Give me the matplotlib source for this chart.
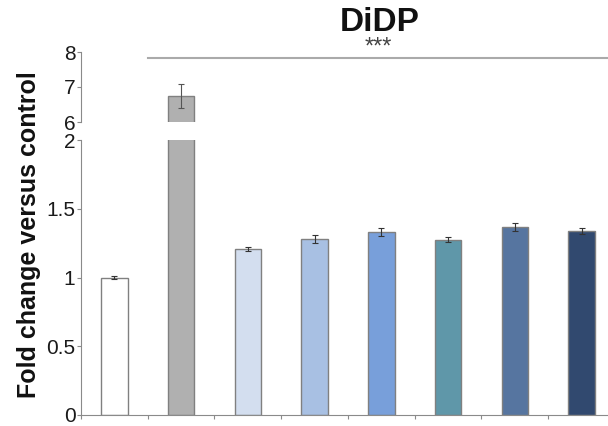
import matplotlib
matplotlib.use("Agg")
import matplotlib.pyplot as plt
import numpy as np

plt.rcParams['font.family'] = ['Liberation Sans', 'DejaVu Sans']

# bar values
groups = ['control', 'DiDP 1', 'DiDP 2', 'DiDP 3', 'DiDP 4', 'DiDP 5', 'DiDP 6', 'DiDP 7']
fold = [1.0, 6.74, 1.208, 1.281, 1.329, 1.274, 1.367, 1.341]
err = [0.012, 0.35, 0.015, 0.028, 0.03, 0.019, 0.028, 0.021]
colors = ['#ffffff', '#b0b0b0', '#d3deef', '#a8c0e3', '#789fda',
          '#5f97a9', '#5675a0', '#31496f']
low_ticks = [0, 0.5, 1, 1.5, 2]
low_labels = ['0', '0.5', '1', '1.5', '2']
high_ticks = [6, 7, 8]

x = np.arange(len(groups))

fig = plt.figure(figsize=(6.08, 4.26), dpi=100)
left = 81 / 608
width = 534 / 608
ax_lo = fig.add_axes([left, 11 / 426, width, 275 / 426])
ax_hi = fig.add_axes([left, 304 / 426, width, 70 / 426])

for ax in (ax_lo, ax_hi):
    ax.bar(x, fold, width=0.4, color=colors, edgecolor='#808080', linewidth=1)
    ax.set_xlim(-0.5, len(groups) - 0.5)
    for side in ('top', 'right'):
        ax.spines[side].set_visible(False)
    ax.spines['left'].set_color('#8a8a8a')
    ax.spines['bottom'].set_color('#8a8a8a')
    ax.tick_params(axis='y', length=3, width=0.8, color='#8a8a8a', pad=1,
                   labelsize=15, labelcolor='#1a1a1a')

# error bars: lower part for the small bars, upper part for the big one
small = [i for i in x if fold[i] < 2]
ax_lo.errorbar(x[small], [fold[i] for i in small], yerr=[err[i] for i in small],
               fmt='none', ecolor='#333333', elinewidth=0.8, capsize=2, capthick=0.8)
ax_hi.errorbar([1], [fold[1]], yerr=[err[1]], fmt='none', ecolor='#555555',
               elinewidth=0.8, capsize=2, capthick=0.8)

ax_lo.set_ylim(0, 2)
ax_lo.set_yticks(low_ticks)
ax_lo.set_yticklabels(low_labels)
ax_lo.set_xticks(np.arange(-0.5, len(groups), 1))
ax_lo.set_xticklabels([])
ax_lo.tick_params(axis='x', length=3, width=0.8, color='#8a8a8a')

ax_hi.set_ylim(6, 8)
ax_hi.set_yticks(high_ticks)
ax_hi.spines['bottom'].set_visible(False)
ax_hi.set_xticks([])

# significance line, stars and title
ax_hi.plot([0.5, 8.0], [7.84, 7.84], color='#aaaaaa', linewidth=1.5, clip_on=False)
ax_hi.text(3.95, 8.12, '***', ha='center', va='center', fontsize=17, color='#444444')
ax_hi.text(3.97, 8.85, 'DiDP', ha='center', va='center', fontsize=24,
           fontweight='bold', color='#111111')

fig.text(0.047, 0.45, 'Fold change versus control', rotation=90, ha='center',
         va='center', fontsize=18, fontweight='bold', color='#111111')

fig.savefig('out.png', dpi=100)
